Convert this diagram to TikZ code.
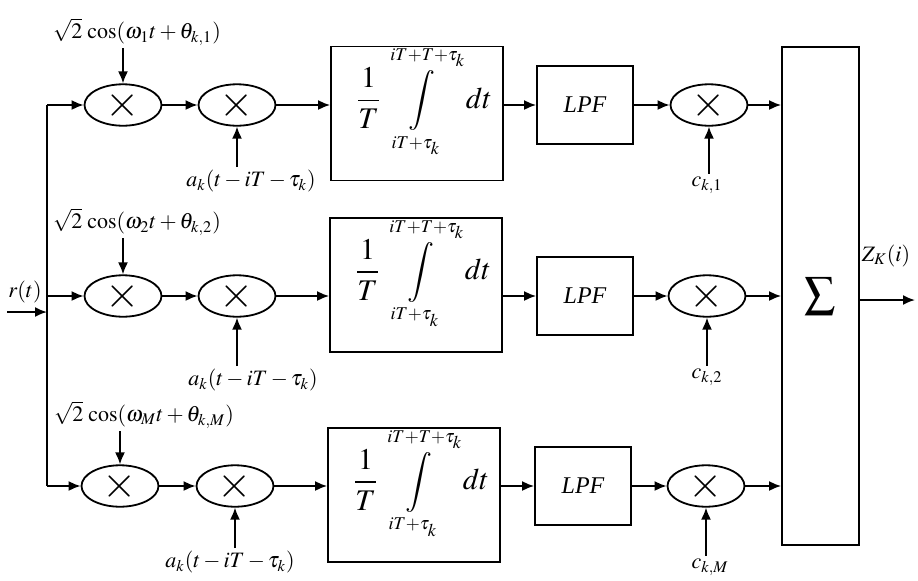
\documentclass[tikz,border=0pt]{standalone}
\usepackage{amsmath}
\usepackage{mathptmx}
\usepackage{fontspec}
\setmainfont{Liberation Serif}
\usetikzlibrary{arrows.meta,positioning,shapes.geometric}

\newcommand{\intpart}{$\dfrac{1}{T}\displaystyle\int\limits_{\scriptscriptstyle iT+\tau_k}^{\scriptscriptstyle iT+T+\tau_k}\,dt$}

\begin{document}
\begin{tikzpicture}[
  x=0.5pt,y=-0.5pt,
  line width=0.9pt,
  mult/.style={draw,ellipse,minimum width=38.5pt,minimum height=17pt,inner sep=0pt,font=\fontsize{22}{22}\selectfont},
  intbox/.style={draw,rectangle,minimum width=86pt,minimum height=67pt},
  intexpr/.style={font=\fontsize{15}{17}\selectfont,inner sep=0pt},
  lpfbox/.style={draw,rectangle,minimum width=48pt,minimum height=39pt,font=\fontsize{12}{14}\selectfont\itshape},
  lab/.style={font=\fontsize{11}{13}\selectfont,inner sep=1pt},
  arr/.style={-{Latex[length=6pt,width=5pt]}}
]
  \useasboundingbox (0,0) rectangle (918,580);

  % input bus
  \coordinate (bus1) at (47,105);
  \coordinate (bus2) at (47,296);
  \coordinate (bus3) at (47,486);
  \coordinate (in) at (7,312);
  \node[lab] (rt) at (25,292) {$r(t)$};
  \draw (bus1) -- (bus3);
  \draw[arr] (in) -- (in -| bus2);

  % branch 1
  \node[mult] (m11) at (123,105) {$\times$};
  \node[mult] (m12) at (237,105) {$\times$};
  \node[intbox] (int1) at (417,113.5) {};
  \node[intexpr] (f1) at (424,102) {\intpart};
  \node[lpfbox] (lpf1) at (585,105) {LPF};
  \node[mult] (m13) at (709,105) {$\times$};
  \node[lab] (cos1) at (137,32) {$\sqrt{2}\,\cos(\omega_1 t+\theta_{k,1})$};
  \node[lab] (a1) at (251,181) {$a_k(t-iT-\tau_k)$};
  \node[lab] (c1) at (707,185) {$c_{k,1}$};

  % branch 2
  \node[mult] (m21) at (123,296) {$\times$};
  \node[mult] (m22) at (237,296) {$\times$};
  \node[intbox] (int2) at (416,285) {};
  \node[intexpr] (f2) at (423,273.5) {\intpart};
  \node[lpfbox] (lpf2) at (585,296) {LPF};
  \node[mult] (m23) at (707,296) {$\times$};
  \node[lab] (cos2) at (137,222) {$\sqrt{2}\,\cos(\omega_2 t+\theta_{k,2})$};
  \node[lab] (a2) at (253,380) {$a_k(t-iT-\tau_k)$};
  \node[lab] (c2) at (707,377) {$c_{k,2}$};

  % branch M
  \node[mult] (m31) at (120,486) {$\times$};
  \node[mult] (m32) at (235,486) {$\times$};
  \node[intbox] (int3) at (414,495) {};
  \node[intexpr] (f3) at (421,483.5) {\intpart};
  \node[lpfbox] (lpf3) at (583,486) {LPF};
  \node[mult] (m33) at (706,486) {$\times$};
  \node[lab] (cos3) at (144,415) {$\sqrt{2}\,\cos(\omega_M t+\theta_{k,M})$};
  \node[lab] (a3) at (230,562) {$a_k(t-iT-\tau_k)$};
  \node[lab] (c3) at (710,567) {$c_{k,M}$};

  % summer
  \node[draw,minimum width=38.5pt,minimum height=249pt,font=\fontsize{22}{26}\selectfont] (sum) at (820.5,296) {$\sum$};
  \coordinate (out) at (915,300);
  \node[lab] (zk) at (886,256) {$Z_K(i)$};
  \draw[arr] (sum.east |- out) -- (out);

  % connections
  \foreach \r in {1,2,3}{
    \draw[arr] (bus\r) -- (m\r1);
    \draw[arr] (m\r1) -- (m\r2);
    \draw[arr] (m\r2) -- (m\r2 -| int\r.west);
    \draw[arr] (lpf\r -| int\r.east) -- (lpf\r);
    \draw[arr] (lpf\r) -- (m\r3);
    \draw[arr] (m\r3) -- (m\r3 -| sum.west);
  }
  \draw[arr] (cos1.south -| m11) -- (m11);
  \draw[arr] (cos2.south -| m21) -- (m21);
  \draw[arr] (cos3.south -| m31) -- (m31);
  \draw[arr] (a1.north -| m12) -- (m12);
  \draw[arr] (a2.north -| m22) -- (m22);
  \draw[arr] (a3.north -| m32) -- (m32);
  \draw[arr] (c1.north -| m13) -- (m13);
  \draw[arr] (c2.north -| m23) -- (m23);
  \draw[arr] (c3.north -| m33) -- (m33);
\end{tikzpicture}
\end{document}
